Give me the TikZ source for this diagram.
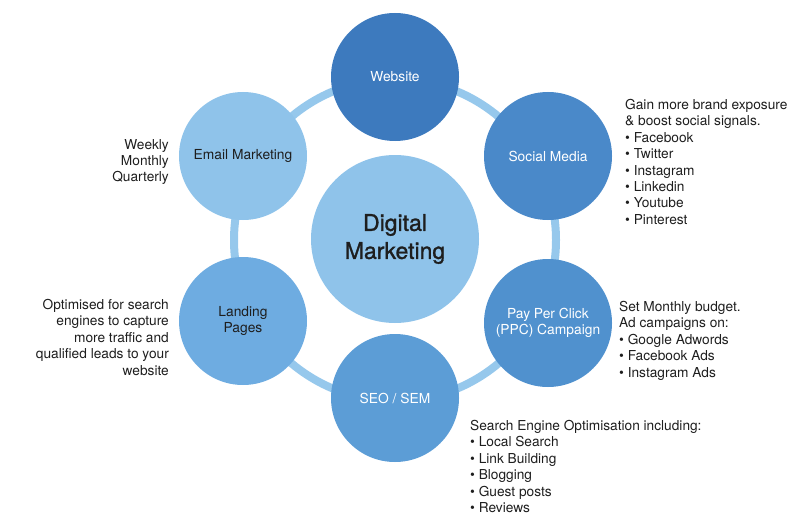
\documentclass[tikz,border=0pt]{standalone}
\usepackage{fontspec}
\setmainfont{TeX Gyre Heros}
\newfontfamily\medfont[FakeBold=1.2]{TeX Gyre Heros}
\definecolor{webblue}{RGB}{61,122,190}
\definecolor{socialblue}{RGB}{74,137,201}
\definecolor{ppcblue}{RGB}{80,145,206}
\definecolor{seoblue}{RGB}{92,157,214}
\definecolor{landblue}{RGB}{110,172,225}
\definecolor{lightblue}{RGB}{143,195,234}
\definecolor{ringblue}{RGB}{150,200,236}
\definecolor{ink}{RGB}{30,30,30}
\begin{document}
\begin{tikzpicture}[x=1pt,y=-1pt,
  spoke/.style={circle,minimum size=128pt,inner sep=0pt,align=center,
    font=\fontsize{13.8}{16.4}\selectfont},
  note/.style={inner sep=0pt,text=ink,font=\fontsize{13.7}{16.4}\selectfont}]
  \useasboundingbox (0,0) rectangle (800,532);
  \draw[ringblue,line width=8pt] (395,240) circle [radius=161];
  \node[circle,minimum size=168pt,fill=lightblue,text=ink,align=center,
    font=\medfont\fontsize{23}{28}\selectfont] (dm) at (395,239) {Digital\\Marketing};
  \node[spoke,fill=webblue,text=white] (web) at (395,77) {Website};
  \node[spoke,fill=socialblue,text=white] (social) at (548,156) {Social Media};
  \node[spoke,fill=ppcblue,text=white] (ppc) at (548,323) {Pay Per Click\\(PPC) Campaign};
  \node[spoke,fill=seoblue,text=white] (seo) at (395,398) {SEO / SEM};
  \node[spoke,fill=landblue,text=ink] (land) at (243,321) {Landing\\Pages};
  \node[spoke,fill=lightblue,text=ink] (email) at (243,156) {Email Marketing};
  % notes
  \node[note,anchor=north west,align=left] (socialnote) at (625,99)
    {Gain more brand exposure\\\& boost social signals.\\\textbullet\ Facebook\\\textbullet\ Twitter\\
     \textbullet\ Instagram\\\textbullet\ Linkedin\\\textbullet\ Youtube\\\textbullet\ Pinterest};
  \node[note,anchor=north west,align=left] (ppcnote) at (619,301)
    {Set Monthly budget.\\Ad campaigns on:\\\textbullet\ Google Adwords\\\textbullet\ Facebook Ads\\
     \textbullet\ Instagram Ads};
  \node[note,anchor=north west,align=left] (seonote) at (470,420)
    {Search Engine Optimisation including:\\\textbullet\ Local Search\\\textbullet\ Link Building\\
     \textbullet\ Blogging\\\textbullet\ Guest posts\\\textbullet\ Reviews};
  \node[note,anchor=north east,align=right] (emailnote) at (169,139)
    {Weekly\\Monthly\\Quarterly};
  \node[note,anchor=north east,align=right] (landnote) at (169,299)
    {Optimised for search\\engines to capture\\more traffic and\\qualified leads to your\\website};
\end{tikzpicture}
\end{document}
